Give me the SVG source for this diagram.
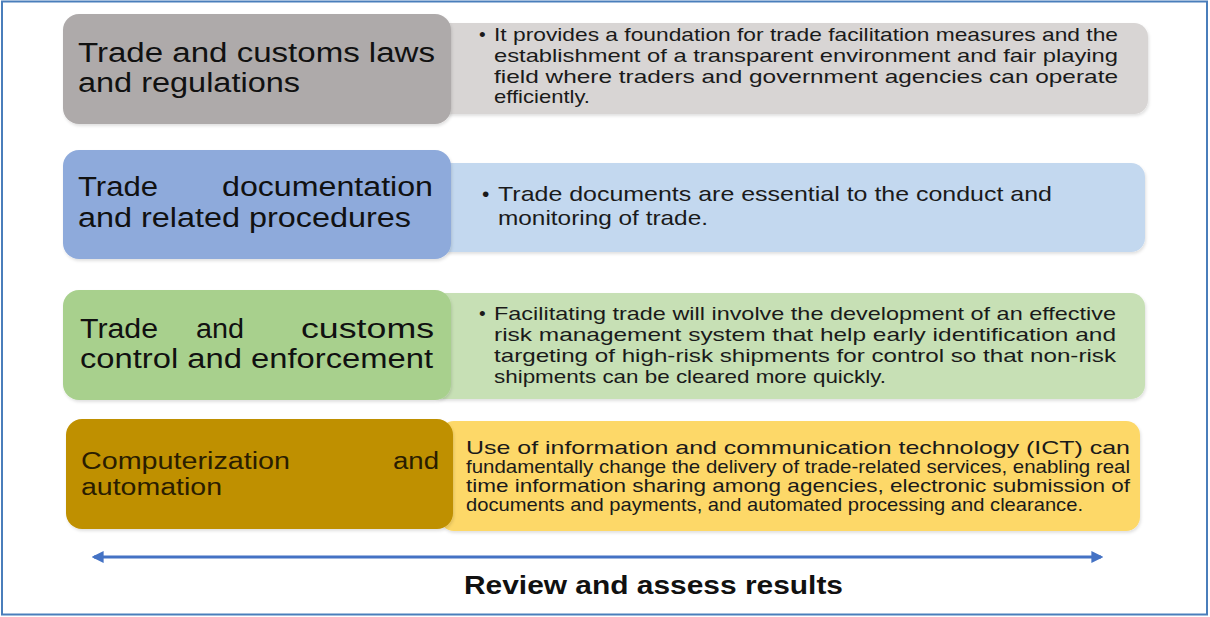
<svg xmlns="http://www.w3.org/2000/svg" width="1210" height="617" viewBox="0 0 1210 617">
  <style>
    .head { font-family: "Liberation Sans", Arial, sans-serif; font-size: 27px; fill: #111; }
    .head4 { font-family: "Liberation Sans", Arial, sans-serif; font-size: 23px; fill: #2a1d00; }
    .body { font-family: "Liberation Sans Narrow", "Liberation Sans", Arial, sans-serif; font-size: 19px; fill: #1a1a1a; }
    .body2 { font-family: "Liberation Sans Narrow", "Liberation Sans", Arial, sans-serif; font-size: 21px; fill: #1a1a1a; }
    .title { font-family: "Liberation Sans Narrow", "Liberation Sans", Arial, sans-serif; font-size: 25px; font-weight: bold; fill: #111; }
  </style>
  <defs>
    <marker id="arrowhead" viewBox="0 0 10 10" refX="8" refY="5" markerWidth="4" markerHeight="4" orient="auto-start-reverse">
      <path d="M0,0 L10,5 L0,10 z" fill="#4472c4"/>
    </marker>
    <filter id="soft" x="-5%" y="-10%" width="110%" height="130%">
      <feDropShadow dx="1" dy="2" stdDeviation="1.5" flood-color="#000" flood-opacity="0.12"/>
    </filter>
  </defs>

  <rect x="0" y="0" width="1210" height="617" fill="#ffffff"/>
  <!-- outer frame -->
  <rect x="2" y="1.5" width="1205" height="613" fill="none" stroke="#4a7ebb" stroke-width="2"/>

  <!-- row 1: laws and regulations -->
  <g id="laws-detail">
    <rect x="430" y="23" width="718" height="91" rx="14" fill="#d8d5d4" filter="url(#soft)"/>
    <text class="body" x="479" y="41">•</text>
    <text class="body" x="494" y="41" textLength="624" lengthAdjust="spacingAndGlyphs">It provides a foundation for trade facilitation measures and the</text>
    <text class="body" x="494" y="62" textLength="624" lengthAdjust="spacingAndGlyphs">establishment of a transparent environment and fair playing</text>
    <text class="body" x="494" y="83" textLength="624" lengthAdjust="spacingAndGlyphs">field where traders and government agencies can operate</text>
    <text class="body" x="494" y="103" textLength="96" lengthAdjust="spacingAndGlyphs">efficiently.</text>
  </g>
  <g id="laws">
    <rect x="63" y="14" width="388" height="110" rx="16" fill="#aeaaaa" filter="url(#soft)"/>
    <text class="head" x="78" y="62" textLength="357" lengthAdjust="spacingAndGlyphs">Trade and customs laws</text>
    <text class="head" x="78" y="92" textLength="222" lengthAdjust="spacingAndGlyphs">and regulations</text>
  </g>

  <!-- row 2: documentation -->
  <g id="documentation-detail">
    <rect x="430" y="163" width="715" height="89" rx="14" fill="#c3d8ef" filter="url(#soft)"/>
    <text class="body2" x="482" y="201">•</text>
    <text class="body2" x="498" y="201" textLength="554" lengthAdjust="spacingAndGlyphs">Trade documents are essential to the conduct and</text>
    <text class="body2" x="498" y="225" textLength="210" lengthAdjust="spacingAndGlyphs">monitoring of trade.</text>
  </g>
  <g id="documentation">
    <rect x="63" y="150" width="388" height="109" rx="16" fill="#8eaadb" filter="url(#soft)"/>
    <text class="head" x="78" y="196" textLength="80" lengthAdjust="spacingAndGlyphs">Trade</text>
    <text class="head" x="222" y="196" textLength="211" lengthAdjust="spacingAndGlyphs">documentation</text>
    <text class="head" x="78" y="227" textLength="333" lengthAdjust="spacingAndGlyphs">and related procedures</text>
  </g>

  <!-- row 3: control and enforcement -->
  <g id="enforcement-detail">
    <rect x="430" y="293" width="715" height="106" rx="14" fill="#c7e0b5" filter="url(#soft)"/>
    <text class="body" x="479" y="320">•</text>
    <text class="body" x="494" y="320" textLength="622" lengthAdjust="spacingAndGlyphs">Facilitating trade will involve the development of an effective</text>
    <text class="body" x="494" y="341" textLength="622" lengthAdjust="spacingAndGlyphs">risk management system that help early identification and</text>
    <text class="body" x="494" y="362" textLength="622" lengthAdjust="spacingAndGlyphs">targeting of high-risk shipments for control so that non-risk</text>
    <text class="body" x="494" y="383" textLength="392" lengthAdjust="spacingAndGlyphs">shipments can be cleared more quickly.</text>
  </g>
  <g id="enforcement">
    <rect x="63" y="290" width="388" height="110" rx="16" fill="#a8d08d" filter="url(#soft)"/>
    <text class="head" x="80" y="338" textLength="78" lengthAdjust="spacingAndGlyphs">Trade</text>
    <text class="head" x="196" y="338" textLength="48" lengthAdjust="spacingAndGlyphs">and</text>
    <text class="head" x="301" y="338" textLength="133" lengthAdjust="spacingAndGlyphs">customs</text>
    <text class="head" x="80" y="368" textLength="353" lengthAdjust="spacingAndGlyphs">control and enforcement</text>
  </g>

  <!-- row 4: computerization -->
  <g id="automation-detail">
    <rect x="440" y="421" width="700" height="110" rx="14" fill="#fdd867" filter="url(#soft)"/>
    <text class="body" x="466" y="454" textLength="664" lengthAdjust="spacingAndGlyphs">Use of information and communication technology (ICT) can</text>
    <text class="body" x="466" y="473" textLength="664" lengthAdjust="spacingAndGlyphs">fundamentally change the delivery of trade-related services, enabling real</text>
    <text class="body" x="466" y="492" textLength="664" lengthAdjust="spacingAndGlyphs">time information sharing among agencies, electronic submission of</text>
    <text class="body" x="466" y="511" textLength="617" lengthAdjust="spacingAndGlyphs">documents and payments, and automated processing and clearance.</text>
  </g>
  <g id="automation">
    <rect x="66" y="419" width="387" height="110" rx="16" fill="#bf9000" filter="url(#soft)"/>
    <text class="head4" x="81" y="469" textLength="209" lengthAdjust="spacingAndGlyphs">Computerization</text>
    <text class="head4" x="393" y="469" textLength="46" lengthAdjust="spacingAndGlyphs">and</text>
    <text class="head4" x="81" y="495" textLength="141" lengthAdjust="spacingAndGlyphs">automation</text>
  </g>

  <!-- connectors -->
  <g id="connectors">
    <line x1="94" y1="557" x2="1101" y2="557" stroke="#4472c4" stroke-width="3" marker-start="url(#arrowhead)" marker-end="url(#arrowhead)"/>
  </g>

  <g id="review">
    <text class="title" x="464" y="594" textLength="379" lengthAdjust="spacingAndGlyphs">Review and assess results</text>
  </g>
</svg>
